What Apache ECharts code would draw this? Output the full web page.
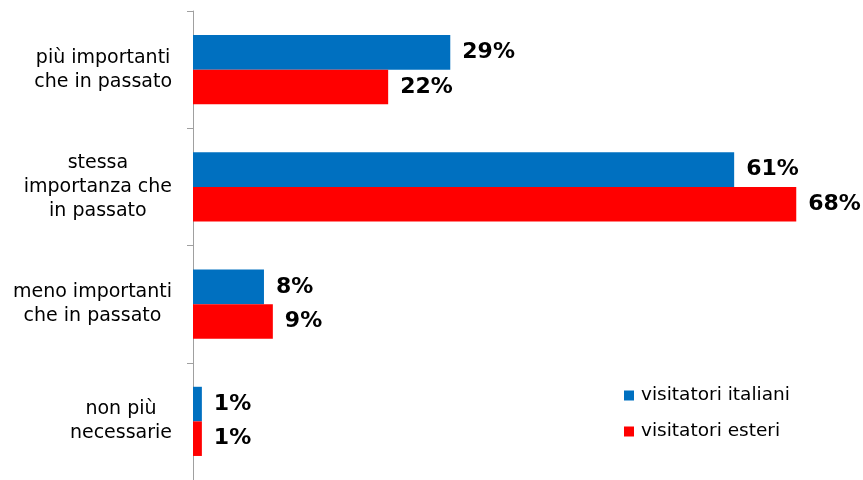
<!DOCTYPE html>
<html>
<head>
<meta charset="utf-8">
<script src="https://cdn.jsdelivr.net/npm/echarts@6/dist/echarts.min.js"></script>
<style>
  html, body { margin: 0; padding: 0; background: #ffffff; }
  #chart { width: 863px; height: 480px; }
</style>
</head>
<body>
<div id="chart"></div>
<script>
// Categories (top to bottom) and percentages per visitor group
const categories = [
  'più importanti\nche in passato',
  'stessa\nimportanza che\nin passato',
  'meno importanti\nche in passato',
  'non più\nnecessarie'
];
const seriesNames = ['visitatori italiani', 'visitatori esteri'];
const italiani = [29, 61, 8, 1];
const esteri = [22, 68, 9, 1];

const chart = echarts.init(document.getElementById('chart'));

const labelStyle = {
  show: true,
  position: 'right',
  distance: 12,
  formatter: '{c}%',
  color: '#000000',
  fontFamily: 'DejaVu Sans',
  fontWeight: 'bold',
  fontSize: 22
};

chart.setOption({
  animation: false,
  backgroundColor: '#ffffff',
  grid: { left: 193, right: 49, top: 11, bottom: -6 },
  legend: {
    orient: 'vertical',
    left: 619,
    top: 381,
    itemWidth: 10,
    itemHeight: 10,
    itemGap: 17,
    icon: 'rect',
    textStyle: { fontFamily: 'DejaVu Sans', fontSize: 18.5, color: '#000000', padding: [0, 0, 0, 2] },
    data: seriesNames
  },
  xAxis: {
    type: 'value',
    min: 0,
    max: 70,
    show: false
  },
  yAxis: {
    type: 'category',
    inverse: true,
    data: categories,
    axisLine: { show: true, lineStyle: { color: '#a0a0a0', width: 1 } },
    axisTick: { show: true, length: 6, lineStyle: { color: '#a0a0a0' } },
    axisLabel: {
      margin: 21,
      align: 'right',
      // every line centred inside the right-aligned label block
      formatter: (v) => v.split('\n').map((l) => '{c|' + l + '}').join('\n'),
      rich: {
        c: {
          align: 'center',
          color: '#000000',
          fontFamily: 'DejaVu Sans',
          fontSize: 19,
          lineHeight: 24
        }
      }
    }
  },
  series: [
    {
      name: seriesNames[0],
      type: 'bar',
      data: italiani,
      itemStyle: { color: '#0070c0' },
      barGap: '0%',
      barCategoryGap: '41%',
      label: labelStyle
    },
    {
      name: seriesNames[1],
      type: 'bar',
      data: esteri,
      itemStyle: { color: '#ff0000' },
      barGap: '0%',
      barCategoryGap: '41%',
      label: labelStyle
    }
  ]
});
</script>
</body>
</html>
